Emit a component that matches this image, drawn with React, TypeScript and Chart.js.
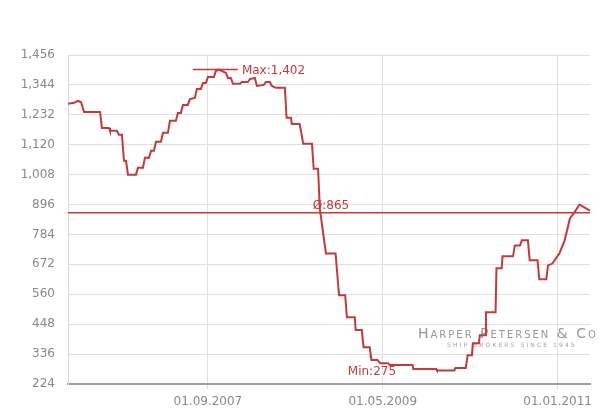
import React, { useEffect, useRef } from 'react';
import { Chart, registerables } from 'chart.js';

Chart.register(...registerables);

// months since 01.05.2006
const monthOffsets = [
  0, 0.69, 1.14, 1.49, 1.83, 3.66, 3.89, 4.69, 4.8, 5.6, 5.83, 6.17, 6.4, 6.63, 6.86, 7.77, 8.0, 8.57, 8.8, 9.26,
  9.49, 9.83, 10.06, 10.63, 10.86, 11.43, 11.66, 12.34, 12.57, 12.91, 13.14, 13.71, 13.94, 14.51, 14.74, 15.2,
  15.43, 15.77, 16.0, 16.69, 16.91, 17.26, 17.6, 18.06, 18.29, 18.63, 18.86, 19.66, 19.89, 20.57, 20.8, 21.37,
  21.6, 22.4, 22.63, 23.09, 23.31, 23.77, 24.8, 25.0, 25.5, 25.6, 26.5, 26.9, 27.9, 28.1, 28.6, 28.8, 29.5,
  30.6, 31.0, 31.7, 31.9, 32.8, 32.9, 33.6, 33.8, 34.5, 34.7, 35.4, 35.7, 36.6, 36.8, 39.4, 39.5, 42.1, 42.2,
  44.2, 44.3, 45.5, 45.7, 46.2, 46.3, 47.0, 47.1, 47.7, 47.8, 48.9, 49.0, 49.6, 49.7, 50.9, 51.1, 51.7, 51.9,
  52.6, 52.8, 53.7, 53.9, 54.7, 54.9, 55.4, 56.2, 56.8, 57.4, 57.9, 58.5, 58.9, 59.7,
];
const indexValues = [
  1273, 1277, 1284, 1280, 1243, 1243, 1183, 1183, 1172, 1172, 1157, 1157, 1060, 1060, 1008, 1008, 1034, 1034, 1071, 1071,
  1097, 1097, 1131, 1131, 1165, 1165, 1210, 1210, 1239, 1239, 1269, 1269, 1291, 1295, 1329, 1329,
  1351, 1351, 1374, 1374, 1396, 1402, 1396, 1389, 1370, 1370, 1348, 1348, 1355, 1355, 1366, 1370,
  1340, 1344, 1355, 1355, 1340, 1333, 1333, 1221, 1221, 1198, 1198, 1124, 1124, 1030, 1030, 880, 713,
  713, 556, 556, 474, 474, 426, 426, 362, 362, 314, 314, 302, 302, 295, 295, 280, 280, 275,
  275, 284, 284, 332, 332, 377, 377, 407, 407, 493, 493, 657, 657, 702, 702, 743, 743, 762,
  762, 687, 687, 616, 616, 668, 675, 713, 762, 844, 866, 896, 888, 873,
];

const yTickValues = [224, 336, 448, 560, 672, 784, 896, 1008, 1120, 1232, 1344, 1456];
const xTickMonths = [16, 36, 56];
const xTickLabels = ['01.09.2007', '01.05.2009', '01.01.2011'];

const maxValue = 1402;
const maxMarkerMonths = [14.29, 19.43];
const avgValue = 865;
const minValue = 275;
const xRange = [0, 59.7];

const RED = '#c33a3a';
const FONT = '"DejaVu Sans", Verdana, sans-serif';

const fmt = (v: number) => v.toLocaleString('en-US');

const annotationPlugin = {
  id: 'annotations',
  beforeDatasetsDraw(chart: any) {
    const { ctx, chartArea } = chart;
    ctx.save();
    // watermark
    ctx.fillStyle = 'rgba(140,140,140,0.9)';
    ctx.font = '14px ' + FONT;
    (ctx as any).fontVariantCaps = 'small-caps';
    (ctx as any).letterSpacing = '2px';
    ctx.textBaseline = 'alphabetic';
    ctx.textAlign = 'left';
    ctx.fillText('Harper Petersen & Co', chartArea.right - 172, 338);
    (ctx as any).fontVariantCaps = 'normal';
    ctx.font = '6px ' + FONT;
    (ctx as any).letterSpacing = '2.1px';
    ctx.fillStyle = 'rgba(150,150,150,0.9)';
    ctx.fillText('SHIP BROKERS SINCE 1945', chartArea.right - 143, 347);
    ctx.restore();
  },
  afterDatasetsDraw(chart: any) {
    const { ctx, scales } = chart;
    const x = scales.x;
    const y = scales.y;
    ctx.save();
    ctx.fillStyle = RED;
    ctx.font = '12px ' + FONT;
    ctx.textAlign = 'left';
    ctx.textBaseline = 'middle';
    ctx.fillText('Max:' + fmt(maxValue), x.getPixelForValue(maxMarkerMonths[1]) + 4, y.getPixelForValue(maxValue) + 1);
    ctx.textBaseline = 'bottom';
    ctx.fillText('\u00d8:' + fmt(avgValue), x.getPixelForValue(28.0), y.getPixelForValue(avgValue) - 1);
    ctx.textBaseline = 'middle';
    ctx.fillText('Min:' + fmt(minValue), x.getPixelForValue(32.0), y.getPixelForValue(minValue) + 1);
    ctx.restore();
  },
};

export default function App() {
  const ref = useRef<HTMLCanvasElement | null>(null);
  useEffect(() => {
    if (!ref.current) return;
    const chart = new Chart(ref.current, {
      type: 'line',
      data: {
        datasets: [
          {
            data: monthOffsets.map((m, i) => ({ x: m, y: indexValues[i] })),
            borderColor: RED,
            borderWidth: 2,
            pointRadius: 0,
            tension: 0,
            fill: false,
          },
          {
            data: [
              { x: xRange[0], y: avgValue },
              { x: xRange[1], y: avgValue },
            ],
            borderColor: RED,
            borderWidth: 1.5,
            pointRadius: 0,
            fill: false,
          },
          {
            data: [
              { x: maxMarkerMonths[0], y: maxValue },
              { x: maxMarkerMonths[1], y: maxValue },
            ],
            borderColor: RED,
            borderWidth: 1.5,
            pointRadius: 0,
            fill: false,
          },
        ],
      },
      options: {
        responsive: false,
        maintainAspectRatio: false,
        animation: false,
        layout: { padding: { top: 55, right: 10, left: 0, bottom: 0 } },
        plugins: { legend: { display: false }, tooltip: { enabled: false } },
        scales: {
          x: {
            type: 'linear',
            min: xRange[0],
            max: xRange[1],
            afterBuildTicks: (scale: any) => {
              scale.ticks = xTickMonths.map((v) => ({ value: v }));
            },
            afterFit: (scale: any) => {
              scale.height = 28;
            },
            ticks: {
              callback: (v: any) => {
                const i = xTickMonths.indexOf(Number(v));
                return i >= 0 ? xTickLabels[i] : '';
              },
              color: '#888',
              font: { family: FONT, size: 12 },
              padding: 6,
              maxRotation: 0,
              autoSkip: false,
            },
            grid: { color: '#e0e0e0', tickLength: 5, drawTicks: true },
            border: { color: '#a0a0a0', width: 2 },
          },
          y: {
            type: 'linear',
            min: yTickValues[0],
            max: yTickValues[yTickValues.length - 1],
            afterBuildTicks: (scale: any) => {
              scale.ticks = yTickValues.map((v) => ({ value: v }));
            },
            afterFit: (scale: any) => {
              scale.width = 68;
            },
            ticks: {
              callback: (v: any) => fmt(Number(v)),
              color: '#888',
              font: { family: FONT, size: 12 },
              padding: 13,
            },
            grid: { color: '#e0e0e0', drawTicks: false },
            border: { color: '#d8d8d8', width: 1 },
          },
        },
      },
      plugins: [annotationPlugin],
    } as any);
    return () => chart.destroy();
  }, []);
  return (
    <div style={{ position: 'absolute', left: 0, top: 0, width: 600, height: 412, background: '#fff' }}>
      <canvas ref={ref} width={600} height={412} style={{ width: 600, height: 412, display: 'block' }} />
    </div>
  );
}
